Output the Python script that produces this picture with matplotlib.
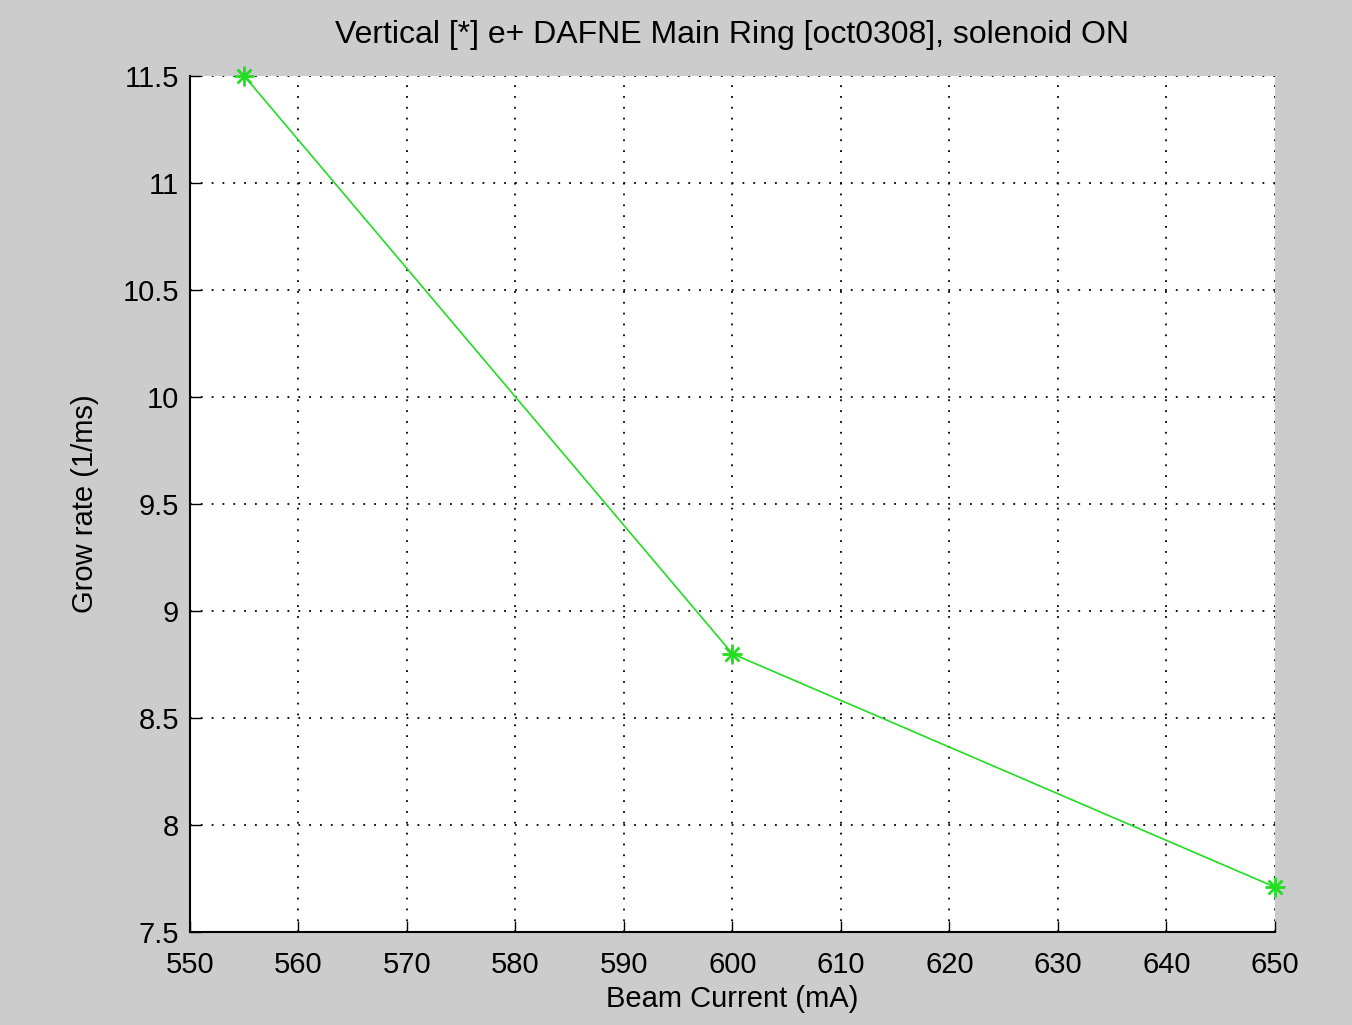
import matplotlib.pyplot as plt

beam_current = [555, 600, 650]
grow_rate = [11.5, 8.8, 7.71]
x_ticks = [550, 560, 570, 580, 590, 600, 610, 620, 630, 640, 650]
y_ticks = [7.5, 8, 8.5, 9, 9.5, 10, 10.5, 11, 11.5]
y_labels = ['7.5', '8', '8.5', '9', '9.5', '10', '10.5', '11', '11.5']

plt.rcParams['font.family'] = ['Liberation Sans', 'DejaVu Sans']

fig = plt.figure(figsize=(13.52, 10.25), dpi=100, facecolor='#cccccc')
ax = fig.add_axes([0.1405, 0.0907, 0.8025, 0.8352])
ax.set_facecolor('white')

green = '#22dd22'
ax.plot(beam_current, grow_rate, color=green, lw=1.2, zorder=3)
# matlab style asterisk: + and x on top of each other
ax.plot(beam_current, grow_rate, ls='none', marker='+', color=green,
        markersize=14, markeredgewidth=2, clip_on=False, zorder=4)
ax.plot(beam_current, grow_rate, ls='none', marker='x', color=green,
        markersize=10, markeredgewidth=2, clip_on=False, zorder=4)

ax.set_xlim(550, 650)
ax.set_ylim(7.5, 11.5)
ax.set_xticks(x_ticks)
ax.set_yticks(y_ticks)
ax.set_yticklabels(y_labels)
ax.grid(True, color='black', linestyle=(0, (1, 5)), linewidth=1.3)
ax.tick_params(direction='in', length=8, width=1, labelsize=21,
               top=False, right=False)
ax.tick_params(axis='x', pad=14)
ax.tick_params(axis='y', pad=8)
for s in ['top', 'right']:
    ax.spines[s].set_visible(False)
for s in ['left', 'bottom']:
    ax.spines[s].set_linewidth(1.5)

ax.set_title('Vertical [*] e+ DAFNE Main Ring [oct0308], solenoid ON',
             fontsize=23, pad=24)
ax.set_xlabel('Beam Current (mA)', fontsize=21, labelpad=4)
ax.set_ylabel('Grow rate (1/ms)', fontsize=21, labelpad=17)

fig.savefig('out.png', dpi=100, facecolor=fig.get_facecolor())
